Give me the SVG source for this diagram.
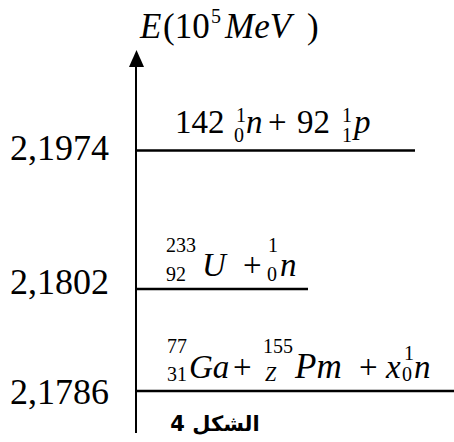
<svg xmlns="http://www.w3.org/2000/svg" width="454" height="442" viewBox="0 0 454 442" font-family="'Liberation Serif', 'Times New Roman', serif">
<style>
text{font-family:"Liberation Serif","Times New Roman",serif;fill:#000}
.m{font-size:33px}
.t{font-size:35px}
.s{font-size:20px}
.i{font-style:italic}
.lab{font-size:36px}
.ln{stroke:#000;stroke-width:2.5;fill:none}
.ax{stroke:#000;stroke-width:2;fill:none}
.ar{font-family:"DejaVu Sans",sans-serif;font-weight:bold;font-size:21px}
</style>
<g id="connectors">
<line class="ax" x1="136" y1="433" x2="136" y2="60"/>
<path d="M129,67 L136.5,50 L144,67 Z" fill="#000"/>
<line class="ln" x1="136" y1="150.5" x2="415" y2="150.5"/>
<line class="ln" x1="136" y1="289" x2="308" y2="289"/>
<line class="ln" x1="136" y1="391" x2="454" y2="391"/>
</g>
<g id="axis-title">
<text class="t i" x="140" y="38">E</text>
<text class="t" x="163" y="38">(10</text>
<text class="s" x="211" y="23">5</text>
<text class="t i" x="225" y="38">MeV</text>
<text class="t" x="307" y="38">)</text>
</g>
<g id="level1">
<text class="lab" x="10" y="160">2,1974</text>
<text class="m" x="175" y="133">142</text>
<text class="s" x="236" y="122">1</text>
<text class="s" x="234" y="142">0</text>
<text class="m i" x="246" y="133">n</text>
<text class="m" x="268" y="133">+</text>
<text class="m" x="297" y="133">92</text>
<text class="s" x="342" y="122">1</text>
<text class="s" x="342" y="142">1</text>
<text class="m i" x="354" y="133">p</text>
</g>
<g id="level2">
<text class="lab" x="10" y="294">2,1802</text>
<text class="s" x="166" y="252">233</text>
<text class="s" x="166" y="281">92</text>
<text class="m i" x="202" y="276">U</text>
<text class="m" x="243" y="276">+</text>
<text class="s" x="268" y="252">1</text>
<text class="s" x="267" y="281">0</text>
<text class="m i" x="280" y="276">n</text>
</g>
<g id="level3">
<text class="lab" x="10" y="404">2,1786</text>
<text class="s" x="167" y="353">77</text>
<text class="s" x="167" y="381">31</text>
<text class="m i" x="189" y="378">Ga</text>
<text class="m" x="233" y="378">+</text>
<text class="s" x="263" y="353">155</text>
<text class="s i" x="265" y="381">Z</text>
<text class="t i" x="295" y="378">Pm</text>
<text class="m" x="359" y="378">+</text>
<text class="m i" x="386" y="378">x</text>
<text class="s" x="404" y="360">1</text>
<text class="s" x="402" y="381">0</text>
<text class="m i" x="414" y="378">n</text>
</g>
<g id="caption">
<text class="ar" x="215" y="431" direction="rtl" text-anchor="middle">الشكل 4</text>
</g>
</svg>
